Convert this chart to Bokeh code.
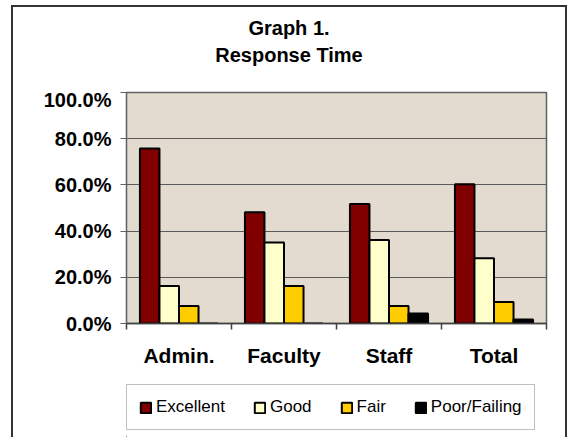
from bokeh.plotting import figure
from bokeh.layouts import column
from bokeh.models import (ColumnDataSource, Range1d, FixedTicker, NumeralTickFormatter,
                          Legend, LegendItem, Label)
from bokeh.transform import dodge
from bokeh.embed import file_html
from bokeh.resources import INLINE

categories = ["Admin.", "Faculty", "Staff", "Total"]
excellent = [0.758, 0.482, 0.517, 0.603]
good = [0.162, 0.351, 0.361, 0.283]
fair = [0.076, 0.162, 0.076, 0.093]
poor = [0.0, 0.0, 0.043, 0.017]
series_names = ["Excellent", "Good", "Fair", "Poor/Failing"]
series_colors = ["#800000", "#FFFFCC", "#FFCC00", "#000000"]
y_ticks = [0.0, 0.2, 0.4, 0.6, 0.8, 1.0]
title_lines = ["Graph 1.", "Response Time"]

centers = [i + 0.5 for i in range(len(categories))]
source = ColumnDataSource(dict(x=centers, Excellent=excellent, Good=good, Fair=fair,
                               **{"Poor/Failing": poor}))

FONT = "Liberation Sans"

# ---- title strip ----
pt = figure(frame_width=420, frame_height=81, output_backend="svg", toolbar_location=None,
            x_axis_location=None, y_axis_location=None,
            x_range=Range1d(0, 1), y_range=Range1d(0, 1),
            min_border_left=113, min_border_right=19,
            min_border_top=0, min_border_bottom=0)
pt.outline_line_color = None
pt.background_fill_color = "white"
pt.border_fill_color = "white"
pt.grid.visible = False
for txt, yb in zip(title_lines, [60.3, 33.8]):
    pt.add_layout(Label(x=162.5, y=yb, x_units="screen", y_units="screen", text=txt,
                        text_align="center", text_baseline="alphabetic",
                        text_font=FONT, text_font_style="bold",
                        text_font_size="20px", text_color="black"))

# ---- main chart ----
p = figure(frame_width=420, frame_height=231, output_backend="svg", toolbar_location=None,
           x_range=Range1d(0, len(categories)), y_range=Range1d(0, 1),
           min_border_left=113, min_border_right=19, min_border_top=4, min_border_bottom=52)
p.background_fill_color = "#E3DBD0"
p.border_fill_color = "white"
p.outline_line_color = "#5f5f5f"
p.outline_line_width = 1.5

bar_w = 0.186
offsets = [-0.279, -0.093, 0.093, 0.279]
for name, color, off in zip(series_names, series_colors, offsets):
    p.vbar(x=dodge("x", off, range=p.x_range), top=name, width=bar_w, bottom=0,
           source=source, fill_color=color, line_color="black", line_width=2)

p.yaxis.ticker = FixedTicker(ticks=y_ticks)
p.yaxis.formatter = NumeralTickFormatter(format="0.0%")
p.yaxis.major_label_text_font = FONT
p.yaxis.major_label_text_font_style = "bold"
p.yaxis.major_label_text_font_size = "20px"
p.yaxis.major_label_text_color = "black"
p.yaxis.major_tick_out = 6
p.yaxis.major_tick_in = 0
p.yaxis.minor_tick_line_color = None
p.yaxis.major_label_standoff = 9
p.yaxis.axis_line_color = "#5f5f5f"
p.yaxis.major_tick_line_color = "#5f5f5f"

p.xaxis.ticker = FixedTicker(ticks=centers, minor_ticks=list(range(len(categories) + 1)))
p.xaxis.major_label_overrides = {c: n for c, n in zip(centers, categories)}
p.xaxis.major_label_text_font = FONT
p.xaxis.major_label_text_font_style = "bold"
p.xaxis.major_label_text_font_size = "21px"
p.xaxis.major_label_text_color = "black"
p.xaxis.major_tick_line_color = None
p.xaxis.major_tick_out = 0
p.xaxis.major_tick_in = 0
p.xaxis.minor_tick_out = 6
p.xaxis.minor_tick_in = 0
p.xaxis.minor_tick_line_color = "#404040"
p.xaxis.minor_tick_line_width = 1.5
p.xaxis.major_label_standoff = 14
p.xaxis.axis_line_color = "#404040"
p.xaxis.axis_line_width = 1.5

p.xgrid.grid_line_color = None
p.ygrid.ticker = FixedTicker(ticks=y_ticks)
p.ygrid.grid_line_color = "#5a5a5a"
p.ygrid.grid_line_width = 1

# ---- legend strip ----
pl = figure(frame_width=420, frame_height=62, output_backend="svg", toolbar_location=None,
            x_axis_location=None, y_axis_location=None,
            x_range=Range1d(0, 1), y_range=Range1d(0, 1),
            min_border_left=113, min_border_right=19,
            min_border_top=0, min_border_bottom=0)
pl.outline_line_color = None
pl.background_fill_color = "white"
pl.border_fill_color = "white"
pl.grid.visible = False
# legend-only renderers: one entry each, placed far outside the visible range
legend_src = ColumnDataSource(dict(x=[-100.0], top=[-99.0], bottom=[-100.0]))
items = []
for name, color in zip(series_names, series_colors):
    r = pl.vbar(x="x", top="top", bottom="bottom", width=bar_w, source=legend_src,
                fill_color=color, line_color="black", line_width=2)
    items.append(LegendItem(label=name, renderers=[r]))
legend = Legend(items=items, orientation="horizontal", location=(0, 7),
                glyph_width=13, glyph_height=13, label_standoff=4, spacing=28,
                padding=12, margin=0,
                label_text_font=FONT, label_text_font_size="17px",
                label_text_color="black",
                border_line_color="#808080", border_line_width=1.5,
                background_fill_color="white", background_fill_alpha=1)
pl.add_layout(legend, "center")

layout = column(pt, p, pl, spacing=0)
layout.styles = {"margin-left": "11px", "margin-top": "5px",
                 "border-left": "2px solid #333333", "border-top": "2px solid #333333",
                 "border-right": "2px solid #333333"}

open("out.html", "w").write(file_html(layout, INLINE))
